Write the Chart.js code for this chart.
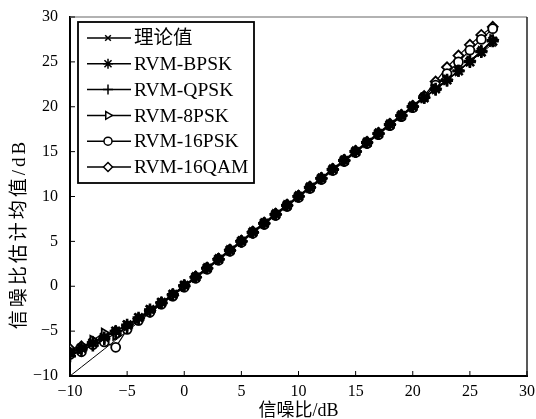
<!DOCTYPE html>
<html>
<head>
<meta charset="utf-8">
<script src="https://cdn.jsdelivr.net/npm/chart.js@4.4.0/dist/chart.umd.min.js"></script>
<style>
  html, body { margin: 0; padding: 0; background: #fff; }
</style>
</head>
<body>
<canvas id="snrChart" width="536" height="419"></canvas>
<script>
// SNR (dB) on the x axis
var snr = [-10, -9, -8, -7, -6, -5, -4, -3, -2, -1, 0, 1, 2, 3, 4, 5, 6, 7, 8, 9,
  10, 11, 12, 13, 14, 15, 16, 17, 18, 19, 20, 21, 22, 23, 24, 25, 26, 27];

// estimated mean SNR (dB), one array per method
var theory = snr.slice();
var bpsk = [-7.4, -6.9, -6.3, -5.7, -5.0, -4.3, -3.5, -2.6, -1.8, -0.9, 0.1, 1.0, 2.0, 3.0, 4.0, 5.0, 6.0, 7.0, 8.0, 9.0,
  10.0, 11.0, 12.0, 13.0, 14.0, 15.0, 16.0, 17.0, 18.0, 19.0, 20.0, 21.0, 22.0, 23.0, 24.0, 25.0, 26.1, 27.3];
var qpsk = [-7.8, -7.1, -6.6, -5.9, -5.3, -4.6, -3.7, -2.8, -1.9, -1.0, 0.0, 1.0, 2.0, 3.0, 4.0, 5.0, 6.0, 7.0, 8.0, 9.0,
  10.0, 11.0, 12.0, 13.0, 14.0, 15.0, 16.0, 17.0, 18.0, 19.0, 20.0, 21.0, 21.9, 22.9, 24.0, 25.1, 26.2, 27.4];
var psk8 = [-7.2, -7.0, -6.0, -5.2, -5.5, -4.4, -3.6, -2.7, -1.9, -1.0, 0.0, 1.0, 2.0, 3.0, 4.0, 5.0, 6.0, 7.0, 8.0, 9.0,
  10.0, 11.0, 12.0, 13.0, 14.0, 15.0, 16.0, 17.0, 18.0, 19.0, 20.0, 21.0, 22.0, 23.0, 24.0, 25.1, 26.2, 27.5];
var psk16 = [-7.6, -7.3, -6.5, -6.2, -6.8, -4.8, -3.8, -2.9, -2.0, -1.1, -0.1, 0.9, 1.9, 2.9, 3.9, 4.9, 5.9, 6.9, 7.9, 8.9,
  9.9, 10.9, 11.9, 12.9, 13.9, 14.9, 15.9, 16.9, 17.9, 18.9, 19.9, 21.1, 22.4, 23.7, 25.0, 26.3, 27.5, 28.7];
var qam16 = [-7.0, -6.7, -6.2, -5.6, -5.0, -4.4, -3.6, -2.7, -1.8, -0.9, 0.1, 1.1, 2.1, 3.1, 4.1, 5.1, 6.1, 7.1, 8.1, 9.1,
  10.1, 11.1, 12.1, 13.1, 14.1, 15.1, 16.1, 17.1, 18.1, 19.1, 20.1, 21.2, 22.8, 24.4, 25.7, 26.9, 28.0, 28.9];

var seriesNames = ['理论值', 'RVM-BPSK', 'RVM-QPSK', 'RVM-8PSK', 'RVM-16PSK', 'RVM-16QAM'];
var axisTicks = [-10, -5, 0, 5, 10, 15, 20, 25, 30];

var serif = '"Liberation Serif", "Noto Sans CJK SC", serif';

function pts(ys) {
  return snr.map(function (x, i) { return { x: x, y: ys[i] }; });
}

function series(label, ys, style, rot, fill, radius, pbw) {
  return {
    label: label,
    data: pts(ys),
    borderColor: '#000',
    borderWidth: 1.2,
    pointStyle: style,
    rotation: rot,
    pointRadius: radius,
    pointBorderWidth: pbw,
    pointBorderColor: '#000',
    pointBackgroundColor: fill,
    tension: 0
  };
}

var datasets = [
  series(seriesNames[0], theory, 'crossRot', 0, '#fff', 4, 1.2),
  series(seriesNames[1], bpsk, 'star', 0, '#000', 6, 2.6),
  series(seriesNames[2], qpsk, 'cross', 0, '#000', 6, 2.6),
  series(seriesNames[3], psk8, 'triangle', 90, '#fff', 5, 1.8),
  series(seriesNames[4], psk16, 'circle', 0, '#fff', 4.5, 1.8),
  series(seriesNames[5], qam16, 'rectRot', 0, '#fff', 5, 1.8)
];
// the theoretical markers are hidden under the band in the reference
datasets[0].borderWidth = 1;
datasets[0].pointRadius = snr.map(function (x) { return x < -4 ? 0 : 4; });
// filled (black) markers end up on top of the open ones
datasets[0].order = 6;
datasets[5].order = 5;
datasets[4].order = 4;
datasets[3].order = 3;
datasets[2].order = 2;
datasets[1].order = 1;

var legendRadius = [4, 5, 5, 4.5, 4, 4.5];

// inner ticks, frame, legend box and axis titles
var decorations = {
  id: 'decorations',
  afterDraw: function (chart) {
    var ctx = chart.ctx;
    var a = chart.chartArea;
    var xs = chart.scales.x, ys = chart.scales.y;
    ctx.save();

    // frame top / right
    ctx.strokeStyle = '#999';
    ctx.lineWidth = 1.5;
    ctx.beginPath();
    ctx.moveTo(a.left, a.top);
    ctx.lineTo(a.right, a.top);
    ctx.stroke();
    ctx.strokeStyle = '#222';
    ctx.beginPath();
    ctx.moveTo(a.right, a.top);
    ctx.lineTo(a.right, a.bottom);
    ctx.stroke();

    // ticks pointing inwards
    ctx.strokeStyle = '#000';
    ctx.lineWidth = 1;
    axisTicks.forEach(function (v) {
      var px = xs.getPixelForValue(v);
      ctx.beginPath();
      ctx.moveTo(px, a.bottom);
      ctx.lineTo(px, a.bottom - 5);
      ctx.stroke();
      var py = ys.getPixelForValue(v);
      ctx.beginPath();
      ctx.moveTo(a.left, py);
      ctx.lineTo(a.left + 5, py);
      ctx.stroke();
    });

    // legend
    var bx = 78, by = 22, bw = 176, bh = 161;
    ctx.fillStyle = '#fff';
    ctx.fillRect(bx, by, bw, bh);
    ctx.strokeStyle = '#000';
    ctx.lineWidth = 1.8;
    ctx.strokeRect(bx, by, bw, bh);
    ctx.font = '19.5px ' + serif;
    ctx.textBaseline = 'middle';
    chart.data.datasets.forEach(function (ds, i) {
      var y = 38 + i * 25.8;
      ctx.strokeStyle = '#000';
      ctx.lineWidth = 1.5;
      ctx.beginPath();
      ctx.moveTo(87, y);
      ctx.lineTo(131, y);
      ctx.stroke();
      ctx.fillStyle = ds.pointBackgroundColor;
      ctx.lineWidth = 1.5;
      Chart.helpers.drawPoint(ctx, {
        pointStyle: ds.pointStyle,
        rotation: ds.rotation,
        radius: legendRadius[i],
        borderWidth: 1.5
      }, 108, y);
      ctx.fillStyle = '#000';
      ctx.fillText(ds.label, 134, y + 1);
    });

    // axis titles
    ctx.fillStyle = '#000';
    ctx.textAlign = 'center';
    ctx.textBaseline = 'middle';
    ctx.font = '18px ' + serif;
    ctx.fillText('信噪比/dB', (a.left + a.right) / 2, 411);
    ctx.translate(20, 234);
    ctx.rotate(-Math.PI / 2);
    ctx.font = '19px ' + serif;
    ctx.letterSpacing = '3px';
    ctx.fillText('信噪比估计均值/dB', 0, 0);
    ctx.restore();
  }
};

function minusSign(v) {
  return String(v).replace('-', '\u2212');
}

var snrChart = new Chart(document.getElementById('snrChart'), {
  type: 'line',
  data: { datasets: datasets },
  options: {
    responsive: false,
    animation: false,
    devicePixelRatio: 1,
    layout: { padding: { top: 17, right: 9, left: 0, bottom: 0 } },
    plugins: {
      legend: { display: false },
      tooltip: { enabled: false }
    },
    scales: {
      x: {
        type: 'linear',
        min: -10,
        max: 30,
        afterFit: function (scale) {
          scale.height = 43;
          scale.paddingLeft = 0;
          scale.paddingRight = 0;
        },
        afterBuildTicks: function (scale) {
          scale.ticks = axisTicks.map(function (v) { return { value: v }; });
        },
        grid: { display: true, drawOnChartArea: false, drawTicks: false },
        border: { color: '#000', width: 2 },
        ticks: {
          color: '#000',
          padding: 6,
          maxRotation: 0,
          font: { family: serif, size: 16 },
          callback: minusSign
        }
      },
      y: {
        type: 'linear',
        min: -10,
        max: 30,
        afterFit: function (scale) {
          scale.width = 70;
          scale.paddingTop = 0;
          scale.paddingBottom = 0;
        },
        afterBuildTicks: function (scale) {
          scale.ticks = axisTicks.map(function (v) { return { value: v }; });
        },
        grid: { display: true, drawOnChartArea: false, drawTicks: false },
        border: { color: '#000', width: 2 },
        ticks: {
          color: '#000',
          padding: 12,
          font: { family: serif, size: 16 },
          callback: minusSign
        }
      }
    }
  },
  plugins: [decorations]
});
</script>
</body>
</html>
